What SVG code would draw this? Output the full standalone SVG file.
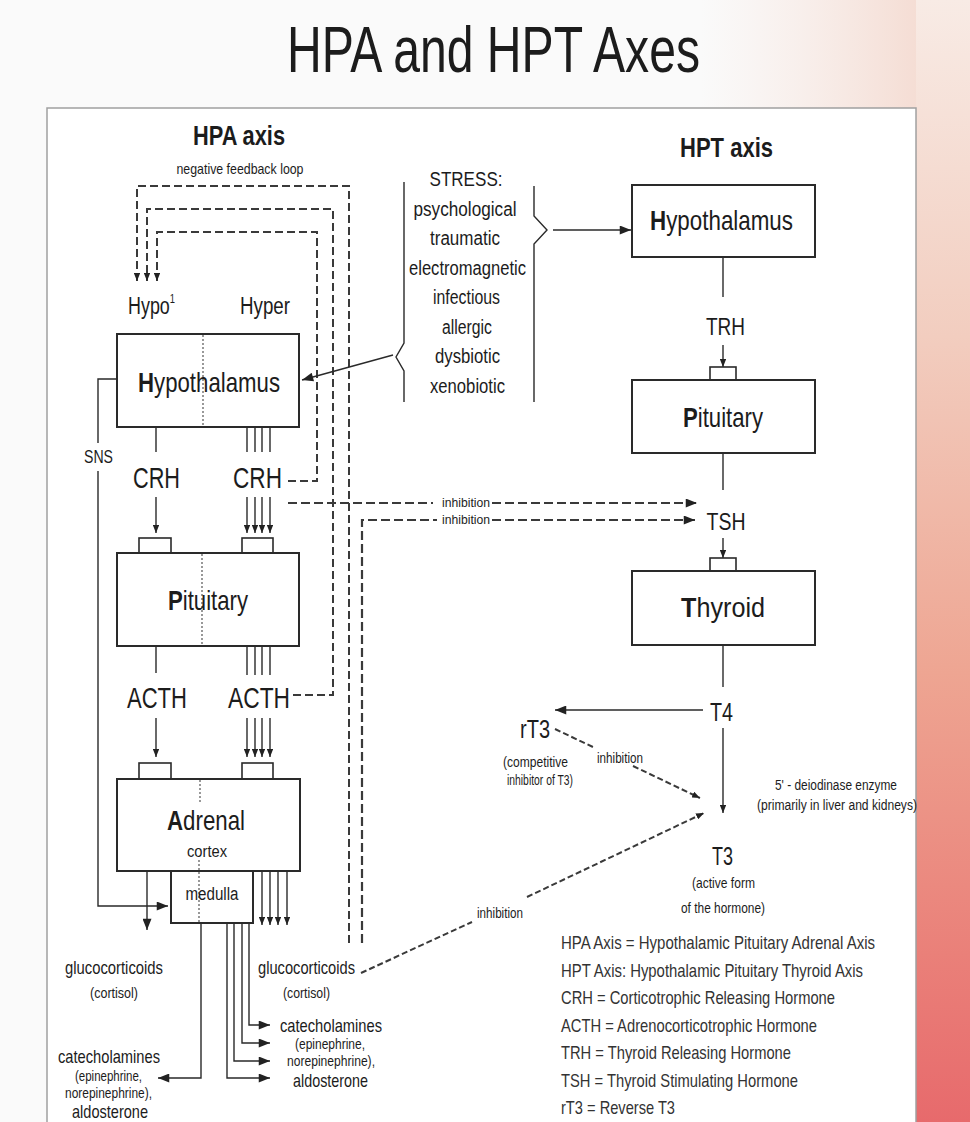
<svg xmlns="http://www.w3.org/2000/svg" width="970" height="1122" viewBox="0 0 970 1122">
<defs>
<style>
.t{font-family:"Liberation Sans",Arial,sans-serif;fill:#1c1c1c;text-anchor:middle}
.l{text-anchor:start}
.b{font-weight:bold}
.lg{font-family:"Liberation Sans",Arial,sans-serif;fill:#333;font-size:19px}
.box{fill:#fff;stroke:#2a2a2a;stroke-width:2}
.rc{fill:#fff;stroke:#2a2a2a;stroke-width:1.6}
.ln{stroke:#2a2a2a;stroke-width:1.4;fill:none}
.ds{stroke:#3a3a3a;stroke-width:2;fill:none;stroke-dasharray:8 4}
.dl{stroke:#3a3a3a;stroke-width:2.2;fill:none;stroke-dasharray:9 4}
.dd{stroke:#3a3a3a;stroke-width:2;fill:none;stroke-dasharray:6 3}
.dot{stroke:#555;stroke-width:1.2;stroke-dasharray:2 2;fill:none}
</style>
<marker id="a" viewBox="0 0 10 8" refX="10" refY="4" markerWidth="8" markerHeight="6.4" orient="auto" markerUnits="userSpaceOnUse"><path d="M0,0 L10,4 L0,8z" fill="#222"/></marker>
<marker id="A" viewBox="0 0 10 8" refX="10" refY="4" markerWidth="13" markerHeight="9" orient="auto" markerUnits="userSpaceOnUse"><path d="M0,0 L10,4 L0,8z" fill="#222"/></marker>
<linearGradient id="side" x1="0" y1="0" x2="0" y2="1">
<stop offset="0" stop-color="#f8ebe5"/>
<stop offset="0.3" stop-color="#f2cdbf"/>
<stop offset="0.6" stop-color="#eea592"/>
<stop offset="0.85" stop-color="#ea8079"/>
<stop offset="1" stop-color="#e76a6c"/>
</linearGradient>
<linearGradient id="topfade" x1="0" y1="0" x2="1" y2="0">
<stop offset="0" stop-color="#f6e2da" stop-opacity="0"/>
<stop offset="1" stop-color="#f3d3c7"/>
</linearGradient>
</defs>

<!-- backdrop -->
<rect x="0" y="0" width="970" height="1122" fill="#fafafa"/>
<rect x="700" y="0" width="270" height="110" fill="url(#topfade)"/>
<rect x="916" y="0" width="54" height="1122" fill="url(#side)"/>
<rect x="47" y="108" width="869" height="1030" fill="#fff" stroke="#a0a0a0" stroke-width="1.5"/>

<text class="t" x="493.5" y="72" font-size="64" textLength="413" lengthAdjust="spacingAndGlyphs">HPA and HPT Axes</text>

<!-- section headings -->
<text class="t b" x="239" y="145" font-size="27" textLength="92" lengthAdjust="spacingAndGlyphs">HPA axis</text>
<text class="t" x="240" y="174" font-size="15" textLength="127" lengthAdjust="spacingAndGlyphs">negative feedback loop</text>
<text class="t b" x="726.5" y="157" font-size="27" textLength="93" lengthAdjust="spacingAndGlyphs">HPT axis</text>

<!-- connectors -->
<g id="connectors">
  <!-- negative feedback loops -->
  <path class="ds" d="M349,943 V186 H137 V281" marker-end="url(#a)"/>
  <path class="ds" d="M293,695 H333 V209 H147 V281" marker-end="url(#a)"/>
  <path class="ds" d="M288,481 H317 V232 H157 V281" marker-end="url(#a)"/>
  <!-- inhibition towards TSH -->
  <path class="dl" d="M288,503 H433"/>
  <path class="dl" d="M492,503 H697" marker-end="url(#A)"/>
  <path class="dl" d="M362,943 V520 H437"/>
  <path class="dl" d="M492,520 H695" marker-end="url(#A)"/>
  <!-- SNS -->
  <path class="ln" d="M117,379 H98 V443"/>
  <path class="ln" d="M98,471 V906 H168" stroke-width="1.8" marker-end="url(#A)"/>
  <!-- CRH -->
  <path class="ln" d="M156,427 V452 M247,427 V452 M255,427 V452 M262,427 V452 M270,427 V452"/>
  <path class="ln" d="M156,497 V533" marker-end="url(#a)"/>
  <path class="ln" d="M247,497 V533" marker-end="url(#a)"/>
  <path class="ln" d="M255,497 V533" marker-end="url(#a)"/>
  <path class="ln" d="M262,497 V533" marker-end="url(#a)"/>
  <path class="ln" d="M270,497 V533" marker-end="url(#a)"/>
  <!-- ACTH -->
  <path class="ln" d="M156,646 V673 M247,646 V675 M255,646 V675 M262,646 V675 M270,646 V675"/>
  <path class="ln" d="M156,718 V757" marker-end="url(#a)"/>
  <path class="ln" d="M247,718 V757" marker-end="url(#a)"/>
  <path class="ln" d="M255,718 V757" marker-end="url(#a)"/>
  <path class="ln" d="M262,718 V757" marker-end="url(#a)"/>
  <path class="ln" d="M270,718 V757" marker-end="url(#a)"/>
  <!-- adrenal outputs -->
  <path class="ln" d="M147,871 V930" stroke-width="1.8" marker-end="url(#A)"/>
  <path class="ln" d="M262,871 V925" marker-end="url(#a)"/>
  <path class="ln" d="M270,871 V925" marker-end="url(#a)"/>
  <path class="ln" d="M278,871 V925" marker-end="url(#a)"/>
  <path class="ln" d="M287,871 V925" marker-end="url(#a)"/>
  <path class="ln" d="M201,923 V1078 H158" stroke-width="1.8" marker-end="url(#A)"/>
  <path class="ln" d="M227,923 V1078 H270" stroke-width="1.8" marker-end="url(#A)"/>
  <path class="ln" d="M234,923 V1061 H270" stroke-width="1.8" marker-end="url(#A)"/>
  <path class="ln" d="M242,923 V1043 H270" stroke-width="1.8" marker-end="url(#A)"/>
  <path class="ln" d="M249,923 V1025 H270" stroke-width="1.8" marker-end="url(#A)"/>
  <!-- stress brackets and arrows -->
  <path class="ln" d="M404,182 V343 L396,357 L404,371 V402" stroke-width="1.6"/>
  <path class="ln" d="M534,186 V216 L547,230 L534,244 V402" stroke-width="1.6"/>
  <path class="ln" d="M553,230 H631" stroke-width="1.8" marker-end="url(#A)"/>
  <path class="ln" d="M393,355 L302,380" stroke-width="1.8" marker-end="url(#A)"/>
  <!-- HPT chain -->
  <path class="ln" d="M723,257 V297"/>
  <path class="ln" d="M723,345 V367" marker-end="url(#a)"/>
  <path class="ln" d="M723,453 V490"/>
  <path class="ln" d="M723,538 V558" marker-end="url(#a)"/>
  <path class="ln" d="M723,645 V687"/>
  <path class="ln" d="M703,710 H555" stroke-width="1.8" marker-end="url(#A)"/>
  <path class="ln" d="M723,728 V813" stroke-width="1.6" marker-end="url(#a)"/>
  <!-- rT3 inhibition -->
  <path class="dd" d="M555,729 L595,748"/>
  <path class="dd" d="M633,766 L700,798" marker-end="url(#a)"/>
  <!-- glucocorticoid inhibition of T4 to T3 -->
  <path class="dd" d="M361,973 L472,922"/>
  <path class="dd" d="M527,897 L704,813" marker-end="url(#a)"/>
</g>

<!-- HPA hypothalamus -->
<g id="hpa-hypothalamus">
  <rect class="box" x="117" y="334" width="182" height="93"/>
  <line class="dot" x1="203" y1="335" x2="203" y2="426"/>
  <text class="t" x="209" y="392" font-size="28" textLength="142" lengthAdjust="spacingAndGlyphs"><tspan class="b">H</tspan>ypothalamus</text>
  <text class="t l" x="128" y="314" font-size="23" textLength="47" lengthAdjust="spacingAndGlyphs">Hypo<tspan font-size="12" dy="-11">1</tspan></text>
  <text class="t" x="265" y="314" font-size="23" textLength="50" lengthAdjust="spacingAndGlyphs">Hyper</text>
</g>

<g id="sns-label">
  <text class="t" x="98.5" y="463" font-size="19" textLength="29" lengthAdjust="spacingAndGlyphs">SNS</text>
</g>

<g id="crh-hpa">
  <text class="t" x="156.5" y="488" font-size="29" textLength="47" lengthAdjust="spacingAndGlyphs">CRH</text>
  <text class="t" x="257.5" y="488" font-size="29" textLength="49" lengthAdjust="spacingAndGlyphs">CRH</text>
</g>

<!-- HPA pituitary -->
<g id="hpa-pituitary">
  <rect class="rc" x="139" y="538" width="32" height="15"/>
  <rect class="rc" x="242" y="538" width="31" height="15"/>
  <rect class="box" x="117" y="553" width="182" height="93"/>
  <line class="dot" x1="202" y1="554" x2="202" y2="645"/>
  <text class="t" x="208" y="610" font-size="28" textLength="80" lengthAdjust="spacingAndGlyphs"><tspan class="b">P</tspan>ituitary</text>
</g>

<g id="acth">
  <text class="t" x="157" y="708" font-size="29" textLength="60" lengthAdjust="spacingAndGlyphs">ACTH</text>
  <text class="t" x="259" y="708" font-size="29" textLength="62" lengthAdjust="spacingAndGlyphs">ACTH</text>
</g>

<!-- adrenal -->
<g id="adrenal">
  <rect class="rc" x="139" y="763" width="32" height="16"/>
  <rect class="rc" x="242" y="763" width="31" height="16"/>
  <rect class="box" x="117" y="779" width="183" height="92"/>
  <line class="dot" x1="200" y1="780" x2="200" y2="803"/>
  <text class="t" x="206" y="830" font-size="28" textLength="78" lengthAdjust="spacingAndGlyphs"><tspan class="b">A</tspan>drenal</text>
  <text class="t" x="207" y="857" font-size="17" textLength="40" lengthAdjust="spacingAndGlyphs">cortex</text>
</g>

<g id="medulla">
  <rect class="box" x="171" y="871" width="82" height="52"/>
  <line class="dot" x1="199" y1="860" x2="199" y2="922"/>
  <text class="t" x="212" y="900" font-size="18" textLength="53" lengthAdjust="spacingAndGlyphs">medulla</text>
</g>

<!-- adrenal products -->
<g id="products-left">
  <text class="t" x="114" y="974" font-size="19" textLength="98" lengthAdjust="spacingAndGlyphs">glucocorticoids</text>
  <text class="t" x="114" y="998" font-size="15" textLength="48" lengthAdjust="spacingAndGlyphs">(cortisol)</text>
  <text class="t" x="109" y="1063" font-size="19" textLength="102" lengthAdjust="spacingAndGlyphs">catecholamines</text>
  <text class="t" x="108.5" y="1081" font-size="15" textLength="67" lengthAdjust="spacingAndGlyphs">(epinephrine,</text>
  <text class="t" x="108.5" y="1098" font-size="15" textLength="87" lengthAdjust="spacingAndGlyphs">norepinephrine),</text>
  <text class="t" x="110" y="1118" font-size="19" textLength="76" lengthAdjust="spacingAndGlyphs">aldosterone</text>
</g>
<g id="products-right">
  <text class="t" x="306.5" y="974" font-size="19" textLength="97" lengthAdjust="spacingAndGlyphs">glucocorticoids</text>
  <text class="t" x="306.5" y="998" font-size="15" textLength="47" lengthAdjust="spacingAndGlyphs">(cortisol)</text>
  <text class="t" x="331" y="1032" font-size="19" textLength="102" lengthAdjust="spacingAndGlyphs">catecholamines</text>
  <text class="t" x="330" y="1049" font-size="15" textLength="70" lengthAdjust="spacingAndGlyphs">(epinephrine,</text>
  <text class="t" x="331" y="1066" font-size="15" textLength="88" lengthAdjust="spacingAndGlyphs">norepinephrine),</text>
  <text class="t" x="330.5" y="1087" font-size="19" textLength="75" lengthAdjust="spacingAndGlyphs">aldosterone</text>
</g>

<!-- stress sources -->
<g id="stress">
  <text class="t" x="466" y="186" font-size="20" textLength="73" lengthAdjust="spacingAndGlyphs">STRESS:</text>
  <text class="t" x="465" y="215.5" font-size="20" textLength="103" lengthAdjust="spacingAndGlyphs">psychological</text>
  <text class="t" x="465" y="245" font-size="20" textLength="70" lengthAdjust="spacingAndGlyphs">traumatic</text>
  <text class="t" x="467.5" y="274.5" font-size="20" textLength="117" lengthAdjust="spacingAndGlyphs">electromagnetic</text>
  <text class="t" x="466.5" y="304" font-size="20" textLength="67" lengthAdjust="spacingAndGlyphs">infectious</text>
  <text class="t" x="467" y="333.5" font-size="20" textLength="50" lengthAdjust="spacingAndGlyphs">allergic</text>
  <text class="t" x="467.5" y="363" font-size="20" textLength="65" lengthAdjust="spacingAndGlyphs">dysbiotic</text>
  <text class="t" x="467.5" y="392.5" font-size="20" textLength="75" lengthAdjust="spacingAndGlyphs">xenobiotic</text>
</g>

<!-- inhibition labels on the TSH lines -->
<g id="tsh-inhibition-labels">
  <text class="t" x="466" y="507" font-size="13" textLength="48" lengthAdjust="spacingAndGlyphs">inhibition</text>
  <text class="t" x="466" y="524" font-size="13" textLength="48" lengthAdjust="spacingAndGlyphs">inhibition</text>
</g>

<!-- HPT axis -->
<g id="hpt-hypothalamus">
  <rect class="box" x="632" y="185" width="183" height="72"/>
  <text class="t" x="721.5" y="230" font-size="28" textLength="143" lengthAdjust="spacingAndGlyphs"><tspan class="b">H</tspan>ypothalamus</text>
</g>
<g id="trh">
  <text class="t" x="725.5" y="335" font-size="24" textLength="39" lengthAdjust="spacingAndGlyphs">TRH</text>
</g>
<g id="hpt-pituitary">
  <rect class="rc" x="710" y="367" width="26" height="13"/>
  <rect class="box" x="632" y="380" width="183" height="73"/>
  <text class="t" x="723" y="427" font-size="28" textLength="80" lengthAdjust="spacingAndGlyphs"><tspan class="b">P</tspan>ituitary</text>
</g>
<g id="tsh">
  <text class="t" x="726" y="530" font-size="24" textLength="39" lengthAdjust="spacingAndGlyphs">TSH</text>
</g>
<g id="thyroid">
  <rect class="rc" x="710" y="558" width="26" height="13"/>
  <rect class="box" x="632" y="571" width="183" height="74"/>
  <text class="t" x="723" y="617" font-size="28" textLength="84" lengthAdjust="spacingAndGlyphs"><tspan class="b">T</tspan>hyroid</text>
</g>
<g id="t4">
  <text class="t" x="721.5" y="721" font-size="25" textLength="23" lengthAdjust="spacingAndGlyphs">T4</text>
</g>
<g id="rt3">
  <text class="t" x="535" y="738" font-size="25" textLength="30" lengthAdjust="spacingAndGlyphs">rT3</text>
  <text class="t" x="535.5" y="767" font-size="14" textLength="65" lengthAdjust="spacingAndGlyphs">(competitive</text>
  <text class="t" x="540" y="785" font-size="14" textLength="66" lengthAdjust="spacingAndGlyphs">inhibitor of T3)</text>
  <text class="t" x="620" y="763" font-size="14" textLength="46" lengthAdjust="spacingAndGlyphs">inhibition</text>
</g>
<g id="deiodinase">
  <text class="t" x="836" y="790" font-size="14" textLength="122" lengthAdjust="spacingAndGlyphs">5' - deiodinase enzyme</text>
  <text class="t" x="837" y="810" font-size="14" textLength="160" lengthAdjust="spacingAndGlyphs">(primarily in liver and kidneys)</text>
</g>
<g id="t3">
  <text class="t" x="722.5" y="865" font-size="25" textLength="21" lengthAdjust="spacingAndGlyphs">T3</text>
  <text class="t" x="723.5" y="888" font-size="15" textLength="63" lengthAdjust="spacingAndGlyphs">(active form</text>
  <text class="t" x="723" y="913" font-size="15" textLength="84" lengthAdjust="spacingAndGlyphs">of the hormone)</text>
</g>
<g id="gluco-inhibition-label">
  <text class="t" x="500" y="918" font-size="14" textLength="46" lengthAdjust="spacingAndGlyphs">inhibition</text>
</g>

<!-- abbreviations -->
<g id="legend">
  <text class="lg" x="561" y="949" textLength="314" lengthAdjust="spacingAndGlyphs">HPA Axis = Hypothalamic Pituitary Adrenal Axis</text>
  <text class="lg" x="561" y="976.5" textLength="302" lengthAdjust="spacingAndGlyphs">HPT Axis: Hypothalamic Pituitary Thyroid Axis</text>
  <text class="lg" x="561" y="1004" textLength="274" lengthAdjust="spacingAndGlyphs">CRH = Corticotrophic Releasing Hormone</text>
  <text class="lg" x="561" y="1031.5" textLength="256" lengthAdjust="spacingAndGlyphs">ACTH = Adrenocorticotrophic Hormone</text>
  <text class="lg" x="561" y="1059" textLength="230" lengthAdjust="spacingAndGlyphs">TRH = Thyroid Releasing Hormone</text>
  <text class="lg" x="561" y="1086.5" textLength="237" lengthAdjust="spacingAndGlyphs">TSH = Thyroid Stimulating Hormone</text>
  <text class="lg" x="561" y="1114" textLength="114" lengthAdjust="spacingAndGlyphs">rT3 = Reverse T3</text>
</g>
</svg>
